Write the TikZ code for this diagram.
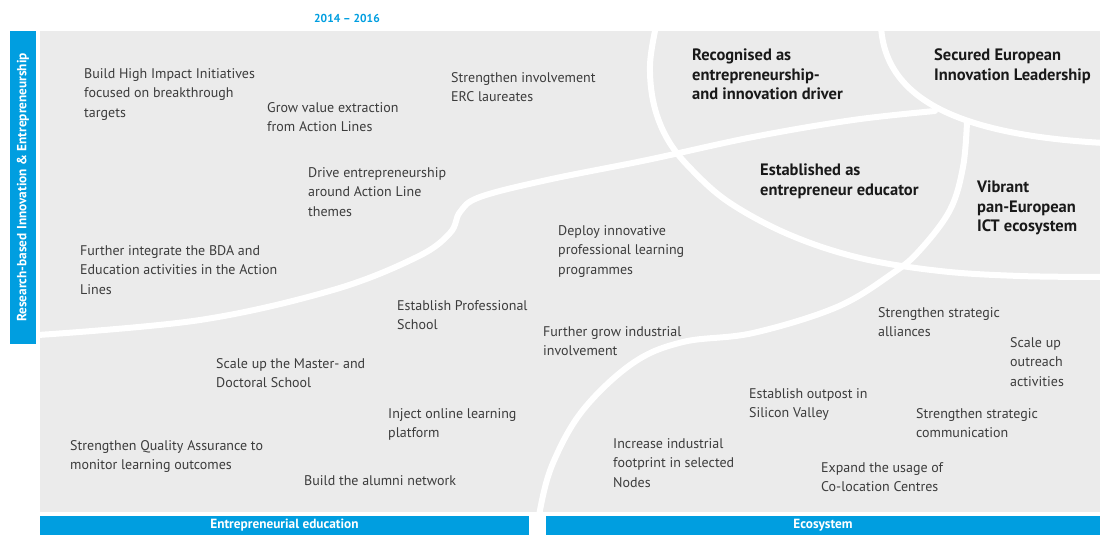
\documentclass[tikz,border=0pt]{standalone}
\usepackage{fontspec}
\setmainfont{PT Sans}
\definecolor{panelgrey}{RGB}{235,235,235}
\definecolor{barblue}{RGB}{0,158,224}
\definecolor{goalgrey}{RGB}{60,60,60}
\definecolor{aimblack}{RGB}{25,25,25}

\begin{document}
\begin{tikzpicture}[x=1pt, y=-1pt,
    goal/.style={anchor=north west, inner sep=0pt, align=left, text=goalgrey, font=\fontsize{14}{19.5}\selectfont},
    aim/.style={anchor=north west, inner sep=0pt, align=left, text=aimblack, font=\fontsize{16.5}{19.5}\selectfont\bfseries},
    lane/.style={white, line width=6pt, line cap=round},
    bar/.style={fill=barblue, text=white, inner sep=0pt, font=\fontsize{13.3}{15}\selectfont\bfseries}]
\useasboundingbox (0,0) rectangle (1100,535);
\fill[panelgrey] (40,31) rectangle (1100,512);

% white borders between the fields
\draw[lane] plot[smooth, tension=0.6] coordinates {(38,335) (200,320) (333,290) (417,257) (450,233) (460,212) (480,197) (547,180) (647,160) (753,137) (853,120) (935,111)};
\draw[lane] plot[smooth, tension=0.6] coordinates {(656,26) (650,65) (654,105) (668,140) (692,170) (730,203) (790,235) (860,258) (940,271) (1020,276) (1104,277)};
\draw[lane] (881,26) .. controls (885,100) and (960,135) .. (1104,143);
\draw[lane] plot[smooth, tension=0.6] coordinates {(538,537) (540,510) (553,463) (583,410) (633,363) (683,342) (753,333) (837,307) (893,273) (920,250) (950,210) (963,167) (967,122)};

% period and axes
\node[text=barblue, font=\fontsize{11.5}{13}\selectfont\bfseries] (period) at (347,18) {2014 -- 2016};
\node[bar, minimum width=313pt, minimum height=26pt, rotate=90] (research) at (23,187.5) {Research-based Innovation \& Entrepreneurship};
\node[bar, minimum width=489pt, minimum height=19pt] (education) at (284.5,525.5) {Entrepreneurial education};
\node[bar, minimum width=554pt, minimum height=19pt] (ecosystem) at (823,525.5) {Ecosystem};

% targets
\node[aim] (recognised) at (692,49) {Recognised as\\entrepreneurship-\\and innovation driver};
\node[aim] (leadership) at (934,49) {Secured European\\Innovation Leadership};
\node[aim] (educator) at (760,164) {Established as\\entrepreneur educator};
\node[aim] (vibrant) at (977,181) {Vibrant\\pan-European\\ICT ecosystem};

% actions
\node[goal] (impact) at (84,68) {Build High Impact Initiatives\\focused on breakthrough\\targets};
\node[goal] (extraction) at (267,102) {Grow value extraction\\from Action Lines};
\node[goal] (erc) at (451,72) {Strengthen involvement\\ERC laureates};
\node[goal] (drive) at (308,167) {Drive entrepreneurship\\around Action Line\\themes};
\node[goal] (integrate) at (80,245) {Further integrate the BDA and\\Education activities in the Action\\Lines};
\node[goal] (deploy) at (558,225) {Deploy innovative\\professional learning\\programmes};
\node[goal] (profschool) at (397,300) {Establish Professional\\School};
\node[goal] (industry) at (543,326) {Further grow industrial\\involvement};
\node[goal] (master) at (216,358) {Scale up the Master- and\\Doctoral School};
\node[goal] (online) at (388,408) {Inject online learning\\platform};
\node[goal] (quality) at (70,440) {Strengthen Quality Assurance to\\monitor learning outcomes};
\node[goal] (alumni) at (304,475) {Build the alumni network};
\node[goal] (footprint) at (613,438) {Increase industrial\\footprint in selected\\Nodes};
\node[goal] (outpost) at (749,388) {Establish outpost in\\Silicon Valley};
\node[goal] (colocation) at (821,462) {Expand the usage of\\Co-location Centres};
\node[goal] (communication) at (916,408) {Strengthen strategic\\communication};
\node[goal] (alliances) at (878,307) {Strengthen strategic\\alliances};
\node[goal] (outreach) at (1010,337) {Scale up\\outreach\\activities};
\end{tikzpicture}
\end{document}
